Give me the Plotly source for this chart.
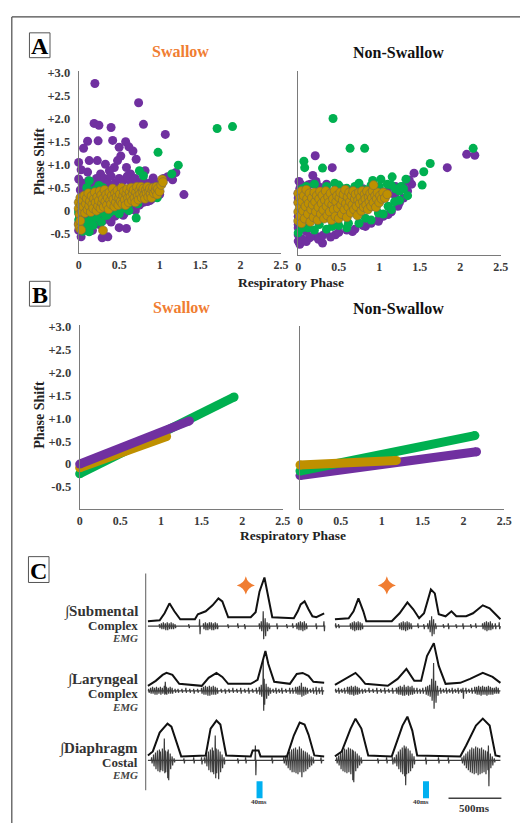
import plotly.graph_objects as go

W, H = 528, 823
SERIF = "Liberation Serif, Times New Roman, serif"
PURPLE, GREEN, GOLD, ORANGE, CYAN = "#7030A0", "#00B050", "#BF9000", "#F07D32", "#00B0F0"

# ---------------- Panel A data (respiratory phase, phase shift) ----------------
SW_PURPLE = [(0.20,2.77),(0.74,2.35),(0.19,1.90),(0.25,1.86),(0.40,1.81),(0.80,1.88),(1.07,1.66),(0.11,1.51),
    (0.24,1.52),(0.42,1.53),(0.58,1.50),(0.06,1.36),(0.50,1.38),(0.62,1.39),(0.67,1.30),(0.00,1.05),(0.03,0.89),
    (0.13,1.09),(0.23,1.09),(0.33,1.01),(0.44,0.94),(0.52,1.19),(0.48,1.09),(0.71,1.12),(0.59,0.94),(0.38,0.87),
    (0.27,0.80),(0.11,0.84),(0.00,0.69),(0.05,0.51),(1.30,0.35),(1.20,0.83),(1.16,0.67),(1.10,0.74),(0.92,0.71),
    (0.64,0.80),(0.82,0.87),(0.03,-0.57),(0.29,-0.59),(0.36,-0.57),(0.50,-0.37),(0.59,-0.39),(0.17,-0.43),
    (0.11,-0.28),(0.27,-0.21),(0.40,-0.14),(0.56,-0.07),(0.70,0.00),(0.76,0.15),(0.88,0.22),(0.96,0.33),
    (0.84,0.33),(0.00,-0.43),(0.00,-0.28),(0.01,-0.14),(0.07,0.00),(0.05,-0.10),(0.10,-0.15),(0.15,-0.20),
    (0.20,-0.25),(0.25,-0.30),(0.30,-0.22),(0.35,-0.18),(0.40,-0.25),(0.45,-0.12),(0.50,-0.05),(0.55,-0.10),
    (0.60,0.00),(0.65,0.05),(0.70,0.08),(0.75,0.12),(0.80,0.18),(0.85,0.20),(0.90,0.25),(0.95,0.30),(1.00,0.35),
    (0.02,0.45),(0.04,0.60),(0.06,0.40),(0.08,0.55),(0.12,0.65),(0.15,0.50),(0.18,0.60),(0.22,0.70),(0.25,0.55),
    (0.28,0.65),(0.32,0.70),(0.36,0.60),(0.40,0.75),(0.45,0.60),(0.50,0.70),(0.55,0.65),(0.60,0.75),(0.65,0.62),
    (0.70,0.70),(0.75,0.60),(0.80,0.65),(0.88,0.60),(0.95,0.62),(1.05,0.70)]
SW_GREEN = [(1.71,1.79),(1.90,1.83),(0.98,1.27),(1.23,0.99),(0.75,0.87),(0.80,0.76),(0.13,0.65),(0.25,0.55),
    (0.71,-0.16),(0.50,-0.07),(0.62,0.00),(0.73,0.15),(0.84,0.29),(0.97,0.28),(0.00,0.00),(0.01,-0.14),(0.03,-0.28),
    (0.13,-0.46),(0.09,-0.25),(0.17,-0.14),(0.35,-0.10),(0.27,-0.03),(0.11,0.11),(0.23,0.22),(0.40,0.15),(0.56,0.26),
    (0.68,0.40),(0.78,0.44),(0.88,0.45),(0.90,0.36),(0.52,0.11),(0.00,-0.05),(0.00,-0.20),(0.02,-0.35),(0.05,-0.45),
    (0.08,-0.30),(0.12,-0.40),(0.15,-0.20),(0.18,-0.32),(0.22,-0.15),(0.28,-0.25),(0.33,-0.10),(0.38,-0.05),
    (0.45,0.00),(0.55,0.05),(0.60,0.10),(0.65,0.18),(0.72,0.20),(0.78,0.30),(0.85,0.35),(0.92,0.40),(0.10,0.50),
    (0.20,0.45),(0.30,0.50),(1.15,0.80)]
SW_GOLD = [(0.00,0.18),(0.00,0.05),(0.01,-0.08),(0.02,0.28),(0.03,0.12),(0.04,-0.02),(0.05,0.22),(0.06,0.08),
    (0.07,0.33),(0.08,-0.05),(0.09,0.15),(0.10,0.27),(0.11,0.02),(0.12,0.38),(0.13,0.10),(0.14,0.21),(0.15,-0.03),
    (0.16,0.32),(0.17,0.14),(0.18,0.05),(0.19,0.26),(0.20,0.40),(0.21,0.18),(0.22,0.00),(0.23,0.30),(0.24,0.10),
    (0.25,0.22),(0.26,0.42),(0.27,0.05),(0.28,0.34),(0.29,0.16),(0.30,0.26),(0.31,0.08),(0.32,0.45),(0.33,0.20),
    (0.34,0.35),(0.35,0.12),(0.36,0.28),(0.37,0.03),(0.38,0.40),(0.39,0.22),(0.40,0.14),(0.41,0.33),(0.42,0.48),
    (0.43,0.25),(0.44,0.09),(0.45,0.38),(0.46,0.18),(0.47,0.30),(0.48,0.44),(0.49,0.12),(0.50,0.27),(0.51,0.36),
    (0.52,0.20),(0.53,0.50),(0.54,0.15),(0.55,0.32),(0.56,0.42),(0.57,0.24),(0.58,0.12),(0.59,0.36),(0.60,0.47),
    (0.61,0.28),(0.62,0.18),(0.63,0.40),(0.64,0.30),(0.65,0.50),(0.66,0.22),(0.67,0.37),(0.68,0.45),(0.69,0.28),
    (0.70,0.18),(0.71,0.40),(0.72,0.52),(0.73,0.32),(0.74,0.24),(0.75,0.44),(0.76,0.36),(0.77,0.52),(0.78,0.28),
    (0.79,0.42),(0.80,0.48),(0.81,0.34),(0.82,0.26),(0.83,0.45),(0.84,0.38),(0.85,0.52),(0.86,0.30),(0.87,0.42),
    (0.88,0.48),(0.89,0.36),(0.90,0.28),(0.91,0.45),(0.92,0.50),(0.93,0.38),(0.95,0.44),(0.96,0.52),(0.97,0.35),
    (0.98,0.48),(1.00,0.42),(1.02,0.56),(1.03,0.68),(1.04,0.62),(0.00,-0.30),(0.01,-0.38),(0.03,-0.42),
    (0.30,-0.43),(0.02,-0.22)]

NS_PURPLE = [(0.21,1.22),(0.42,0.96),(0.18,0.79),(0.22,0.66),(2.08,1.25),(2.18,1.23),(1.84,0.96),(1.43,0.84),
    (1.37,0.69),(1.29,0.51),(1.19,0.37),(0.01,0.66),(0.02,0.51),(0.00,0.30),(0.00,-0.64),(0.02,-0.71),(0.14,-0.57),
    (0.30,-0.68),(0.22,-0.53),(0.46,-0.50),(0.67,-0.43),(0.83,-0.32),(0.99,-0.21),(1.11,-0.06),(1.23,0.12),
    (0.00,-0.28),(0.10,-0.43),(0.34,-0.46),(0.28,0.40),(0.12,0.58),(0.00,-0.50),(0.05,-0.60),(0.10,-0.65),
    (0.15,-0.55),(0.25,-0.60),(0.30,-0.52),(0.40,-0.55),(0.50,-0.45),(0.60,-0.40),(0.70,-0.38),(0.80,-0.30),
    (0.90,-0.25),(1.00,-0.15),(1.05,-0.10),(1.15,0.00),(1.25,0.20),(1.30,0.30),(1.35,0.45),(1.40,0.60),
    (0.00,0.40),(0.00,0.20),(0.00,-0.10),(0.00,-0.35),(0.03,0.60),(0.08,0.45),(0.15,0.60),(0.25,0.55),
    (0.35,0.60),(0.50,0.50),(0.65,0.45),(0.80,0.50),(0.95,0.48),(1.10,0.45),(1.20,0.55),(1.30,0.55)]
NS_GREEN = [(0.43,2.03),(0.64,1.38),(0.82,1.38),(2.16,1.38),(0.07,1.10),(0.08,0.96),(0.30,0.95),(1.63,1.05),
    (1.55,0.87),(1.53,0.58),(1.33,0.71),(1.16,0.76),(1.02,0.71),(0.92,0.68),(0.50,0.58),(0.60,0.51),(0.46,0.45),
    (0.83,0.48),(1.27,0.55),(1.15,0.58),(1.03,0.44),(0.71,0.33),(0.30,0.37),(0.14,0.30),(0.26,-0.28),(0.00,-0.46),
    (0.12,-0.35),(0.42,-0.32),(0.62,-0.25),(0.83,-0.14),(0.99,-0.03),(1.11,0.12),(1.19,0.22),(0.06,-0.06),
    (0.05,0.50),(0.10,0.55),(0.20,0.60),(0.35,0.55),(0.45,0.62),(0.55,0.50),(0.70,0.55),(0.75,0.62),(0.90,0.58),
    (1.00,0.55),(1.10,0.60),(1.20,0.50),(1.25,0.45),(1.30,0.50),(0.05,-0.35),(0.20,-0.40),(0.35,-0.38),
    (0.50,-0.30),(0.60,-0.35),(0.75,-0.25),(0.90,-0.18),(1.05,-0.05),(1.15,0.05),(1.25,0.25),(1.35,0.35),
    (0.02,-0.25)]
NS_GOLD = [(0.00,0.40),(0.00,0.20),(0.00,0.00),(0.00,-0.20),(0.02,0.30),(0.02,0.10),(0.02,-0.10),(0.04,0.45),
    (0.04,-0.25),(0.05,0.22),(0.06,0.02),(0.07,0.35),(0.08,-0.15),(0.09,0.12),(0.10,0.48),(0.11,0.28),
    (0.12,-0.05),(0.13,0.18),(0.14,0.40),(0.15,-0.22),(0.16,0.05),(0.17,0.30),(0.18,0.15),(0.19,-0.12),
    (0.20,0.42),(0.21,0.22),(0.22,0.00),(0.23,0.35),(0.24,-0.18),(0.25,0.10),(0.26,0.28),(0.27,0.44),
    (0.28,-0.05),(0.29,0.18),(0.30,0.36),(0.31,0.04),(0.32,-0.15),(0.33,0.25),(0.34,0.45),(0.35,0.12),
    (0.36,-0.08),(0.37,0.32),(0.38,0.20),(0.39,0.00),(0.40,0.40),(0.41,-0.18),(0.42,0.15),(0.43,0.28),
    (0.44,0.05),(0.45,0.46),(0.46,-0.10),(0.47,0.22),(0.48,0.35),(0.49,0.08),(0.50,-0.15),(0.51,0.30),
    (0.52,0.42),(0.53,0.15),(0.54,-0.05),(0.55,0.25),(0.56,0.38),(0.57,0.05),(0.58,0.48),(0.59,0.18),
    (0.60,-0.12),(0.61,0.32),(0.62,0.10),(0.63,0.42),(0.64,0.22),(0.65,-0.02),(0.66,0.35),(0.67,0.15),
    (0.68,0.45),(0.69,0.05),(0.70,0.28),(0.71,0.38),(0.72,0.12),(0.73,-0.08),(0.74,0.25),(0.75,0.42),
    (0.76,0.18),(0.77,0.32),(0.78,0.02),(0.79,0.45),(0.80,0.22),(0.81,0.10),(0.82,0.38),(0.83,0.28),
    (0.84,0.15),(0.85,0.45),(0.86,0.05),(0.87,0.32),(0.88,0.22),(0.89,0.40),(0.90,0.12),(0.91,0.30),
    (0.92,0.45),(0.93,0.20),(0.95,0.35),(0.96,0.10),(0.97,0.28),(0.98,0.42),(1.00,0.20),(1.01,0.35),
    (1.03,0.28),(1.05,0.42),(1.07,0.30),(1.10,0.38),(0.93,0.58)]

# ---------------- Panel B data: fitted lines (endpoints) ----------------
SW_FIT_GREEN = [(0.0,-0.21),(1.90,1.46)]
SW_FIT_GOLD = [(0.0,-0.08),(1.07,0.60)]
SW_FIT_PURPLE = [(0.0,0.00),(1.35,0.94)]
NS_FIT_PURPLE = [(0.0,-0.25),(2.16,0.27)]
NS_FIT_GREEN = [(0.0,-0.15),(2.14,0.62)]
NS_FIT_GOLD = [(0.0,-0.02),(1.18,0.08)]

Y_TICKS = [-0.5,0,0.5,1.0,1.5,2.0,2.5,3.0]
Y_TICKTEXT = ["-0.5","0","+0.5","+1.0","+1.5","+2.0","+2.5","+3.0"]
X_TICKS = [0,0.5,1,1.5,2,2.5]
X_TICKTEXT = ["0","0.5","1","1.5","2","2.5"]

# ---------------- Panel C data (time in samples, 1 sample = 9.26 ms; amplitude a.u.) ----------------
SAMPLE_MS = 500/54
SUB_ENV_L = [(0,0),(12,1),(17,8),(22,18),(27,10),(33,2),(48,2),(51,7),(59,10),(66,16),(72,23),(76,20),(82,4),
    (105,4),(110,9),(114,30),(119,44),(123,25),(127,4),(149,3),(153,10),(156,17),(160,20),(164,12),(168,5),(172,4),(180,8)]
SUB_ENV_R = [(191,2),(205,3),(210,10),(215,23),(220,10),(223,0),(249,0),(257,8),(265,19),(271,12),(277,3),(282,8),
    (289,32),(293,28),(297,7),(304,5),(310,10),(315,5),(325,5),(332,8),(342,16),(349,13),(355,7),(360,2)]
LAR_ENV_L = [(0,0),(8,5),(15,11),(19,13),(25,11),(32,2),(55,0),(62,8),(70,13),(76,9),(82,2),(105,2),(112,6),
    (116,20),(120,35),(123,22),(129,4),(145,2),(152,12),(158,13),(164,10),(169,4),(180,3)]
LAR_ENV_R = [(191,1),(202,7),(212,13),(217,8),(222,2),(245,0),(255,7),(264,17),(272,5),(279,5),(285,30),(292,43),
    (297,20),(304,2),(319,3),(329,7),(342,13),(352,9),(360,3)]
DIA_ENV_L = [(0,1),(5,5),(12,24),(20,33),(24,30),(29,14),(34,0),(59,1),(64,28),(70,36),(74,32),(80,1),(105,0),
    (107,6),(113,6),(115,0),(142,0),(149,21),(155,34),(160,32),(164,22),(170,1),(180,0)]
DIA_ENV_R = [(191,0),(198,5),(207,28),(212,38),(218,28),(225,1),(249,0),(254,14),(260,31),(265,40),(270,26),
    (275,1),(319,0),(325,11),(335,31),(342,38),(349,31),(355,1),(360,0)]

# EMG spikes: (time, up, down)
SUB_EMG = [(12,2,2),(14,3,3),(16,4,3),(18,3,4),(20,4,4),(22,3,3),(24,4,3),(26,3,3),(28,2,2),(42,2,2),(53,7,8),
    (57,3,3),(59,4,4),(61,3,4),(63,4,3),(65,4,4),(67,3,4),(69,4,3),(71,3,3),(82,2,2),(92,3,2),(99,2,3),
    (114,3,3),(116,5,5),(118,15,13),(120,8,10),(122,4,5),(124,3,3),(132,3,3),(142,2,2),(148,3,2),
    (152,3,3),(154,4,4),(156,5,4),(158,4,5),(160,5,4),(162,3,3),(172,3,3),(180,5,5),
    (192,3,2),(195,2,2),(207,3,3),(209,4,4),(211,5,5),(213,4,4),(215,5,4),(217,4,4),(219,3,3),
    (257,3,3),(259,4,4),(261,5,4),(263,4,5),(265,5,4),(267,4,3),(269,3,3),(276,3,2),(282,2,3),
    (286,3,3),(288,6,6),(290,10,10),(292,7,8),(294,3,3),(302,2,2),(307,3,3),(315,2,2),(322,3,3),(330,2,2),
    (335,3,2),(342,3,3),(344,4,4),(346,5,5),(348,4,4),(350,5,4),(352,3,3),(355,3,3),(359,4,3)]
LAR_EMG = [(1,2,2),(3,3,3),(5,4,3),(7,3,4),(9,4,4),(11,3,3),(13,4,4),(15,3,3),(17,5,4),(18,9,3),(19,4,4),
    (21,3,3),(23,4,3),(25,3,3),(28,2,2),(31,2,2),(35,2,2),(39,3,2),(43,2,2),(47,2,3),(51,2,2),(55,3,3),
    (57,4,4),(59,5,4),(61,4,5),(63,5,5),(65,4,4),(67,5,4),(69,4,4),(71,3,3),(75,2,2),(79,2,3),(83,2,2),
    (87,3,2),(91,2,2),(95,3,3),(99,2,2),(103,3,3),(107,2,2),(111,3,3),(114,4,4),(116,6,6),(118,30,20),
    (119,12,14),(121,7,8),(123,4,5),(125,3,3),(128,2,2),(131,3,3),(134,2,2),(137,3,3),(141,2,2),(145,3,3),
    (148,3,3),(151,4,3),(153,4,4),(155,5,4),(157,8,6),(159,4,5),(161,4,4),(163,3,3),(166,2,2),(169,3,3),
    (172,4,4),(175,3,3),(178,4,4),
    (192,2,2),(195,3,3),(198,2,2),(201,3,3),(204,4,3),(206,4,4),(208,5,4),(210,4,5),(212,5,4),(214,4,4),
    (216,3,3),(219,2,3),(222,2,2),(226,3,2),(230,2,2),(234,3,3),(238,2,2),(242,3,3),(246,2,2),(250,3,3),
    (254,3,3),(256,4,4),(258,5,4),(260,4,5),(262,6,5),(264,4,4),(266,5,5),(268,4,4),(270,5,4),(272,3,3),
    (275,3,3),(278,2,3),(281,3,3),(284,4,4),(286,5,5),(288,6,6),(290,12,10),(292,28,18),(294,10,12),
    (296,5,5),(299,3,3),(302,2,2),(305,3,3),(308,2,2),(311,3,3),(314,2,2),(317,3,3),(320,2,2),(322,3,8),
    (325,3,3),(328,2,2),(331,3,3),(334,4,3),(336,4,4),(338,5,4),(340,4,5),(342,5,4),(344,4,4),(346,4,5),
    (348,5,4),(350,4,4),(352,3,4),(354,3,3),(356,4,3),(358,3,3)]
DIA_EMG = [(4,3,3),(6,6,6),(8,8,9),(10,10,11),(12,11,12),(13,9,10),(15,12,11),(17,22,13),(18,10,12),(20,9,18),
    (21,11,20),(23,7,9),(25,4,5),(27,2,2),(37,2,3),(47,3,3),(55,3,4),(58,3,3),(60,6,6),(62,9,10),(64,11,12),
    (66,13,12),(67,10,14),(69,25,18),(70,12,13),(72,11,19),(74,9,12),(76,6,8),(78,3,4),(92,2,3),(100,3,3),
    (110,15,15),(127,3,3),(139,3,3),(141,5,5),(143,7,8),(145,9,10),(147,11,12),(149,12,12),(151,13,13),
    (153,11,14),(155,14,12),(157,12,17),(159,10,12),(161,9,11),(163,8,9),(165,6,7),(167,4,5),(169,3,3),
    (177,3,3),
    (193,3,3),(195,5,5),(197,8,9),(199,10,11),(201,12,12),(203,11,13),(205,13,12),(207,12,14),(209,11,20),
    (210,10,22),(212,9,11),(214,7,8),(216,5,5),(218,3,3),(235,2,3),(244,3,3),(250,3,4),(252,3,3),(254,6,6),
    (256,9,9),(258,11,12),(260,13,14),(262,15,16),(263,12,25),(264,14,14),(266,12,13),(268,10,11),(270,7,8),
    (272,4,4),(284,3,4),(297,3,3),(307,3,3),(321,3,3),(323,5,5),(325,7,8),(327,9,10),(329,11,12),(331,13,13),
    (333,12,14),(335,14,13),(337,13,15),(339,12,14),(341,13,13),(343,11,12),(345,10,14),(347,9,10),
    (348,15,26),(350,7,8),(352,4,5),(354,2,2)]
SWALLOW_EVENTS = [100, 244]
STIM_EVENTS = [114, 284]
SEGMENTS = [(0, 180), (191, 360)]

# ---------------- figure ----------------
fig = go.Figure()

def px(xp):
    return xp / W

def py(yp):
    return 1 - yp / H

def scatter_pts(pts, color, xa, ya, line_col, lw):
    fig.add_trace(go.Scatter(x=[p[0] for p in pts], y=[p[1] for p in pts], mode="markers",
        xaxis=xa, yaxis=ya, cliponaxis=False, hoverinfo="skip",
        marker=dict(size=9, color=color, line=dict(color=line_col, width=lw))))

def fit_line(pts, color, xa, ya):
    fig.add_trace(go.Scatter(x=[p[0] for p in pts], y=[p[1] for p in pts], mode="lines+markers",
        xaxis=xa, yaxis=ya, cliponaxis=False, hoverinfo="skip",
        line=dict(color=color, width=9), marker=dict(size=9, color=color)))

scatter_pts(SW_PURPLE, PURPLE, "x", "y", PURPLE, 0)
scatter_pts(SW_GREEN, GREEN, "x", "y", GREEN, 0)
scatter_pts(SW_GOLD, GOLD, "x", "y", "#7a6a45", 0.6)
scatter_pts(NS_PURPLE, PURPLE, "x2", "y2", PURPLE, 0)
scatter_pts(NS_GREEN, GREEN, "x2", "y2", GREEN, 0)
scatter_pts(NS_GOLD, GOLD, "x2", "y2", "#7a6a45", 0.6)

fit_line(SW_FIT_GREEN, GREEN, "x3", "y3")
fit_line(SW_FIT_GOLD, GOLD, "x3", "y3")
fit_line(SW_FIT_PURPLE, PURPLE, "x3", "y3")
fit_line(NS_FIT_PURPLE, PURPLE, "x4", "y4")
fit_line(NS_FIT_GREEN, GREEN, "x4", "y4")
fit_line(NS_FIT_GOLD, GOLD, "x4", "y4")

# panel C traces
ROW_BASE = {"sub": (195, 190), "lar": (130, 125), "dia": (59, 55)}
ENVS = {"sub": [SUB_ENV_L, SUB_ENV_R], "lar": [LAR_ENV_L, LAR_ENV_R], "dia": [DIA_ENV_L, DIA_ENV_R]}
EMGS = {"sub": SUB_EMG, "lar": LAR_EMG, "dia": DIA_EMG}
for key in ["sub", "lar", "dia"]:
    env_base, emg_base = ROW_BASE[key]
    for (t0, t1) in SEGMENTS:
        xs, ys = [t0], [emg_base]
        for (t, u, d) in EMGS[key]:
            if t0 <= t <= t1:
                xs += [t - 0.6, t - 0.25, t + 0.25, t + 0.6]
                ys += [emg_base, emg_base + u, emg_base - d, emg_base]
        xs.append(t1); ys.append(emg_base)
        fig.add_trace(go.Scatter(x=xs, y=ys, mode="lines", xaxis="x5", yaxis="y5", hoverinfo="skip",
                                 line=dict(color="#3c3c3c", width=1.2)))
    for env in ENVS[key]:
        fig.add_trace(go.Scatter(x=[p[0] for p in env], y=[env_base + p[1] for p in env], mode="lines",
                                 xaxis="x5", yaxis="y5", hoverinfo="skip",
                                 line=dict(color="#111111", width=2)))

fig.add_trace(go.Scatter(x=SWALLOW_EVENTS, y=[231] * len(SWALLOW_EVENTS), mode="markers", xaxis="x5",
    yaxis="y5", hoverinfo="skip", marker=dict(symbol="star-diamond", size=13, color=ORANGE)))
for t in STIM_EVENTS:
    fig.add_trace(go.Scatter(x=[t, t], y=[17, 34], mode="lines", xaxis="x5", yaxis="y5", hoverinfo="skip",
                             line=dict(color=CYAN, width=6)))
fig.add_trace(go.Scatter(x=[307, 307 + 500 / SAMPLE_MS], y=[17, 17], mode="lines", xaxis="x5", yaxis="y5",
    hoverinfo="skip", line=dict(color="#404040", width=1.5)))

ytickfont = dict(family=SERIF, size=12.5, color="#3a3a3a", weight="bold")
xtickfont = dict(family=SERIF, size=12, color="#3a3a3a", weight="bold")

def xax(x0, x1):
    return dict(domain=[px(x0), px(x1)], range=[0, 2.5], showgrid=False, zeroline=False,
                showline=True, linecolor="#7a7a7a", linewidth=1, tickvals=X_TICKS, ticktext=X_TICKTEXT,
                ticks="", tickfont=xtickfont, fixedrange=True)

def yax(x_anchor, ytop, ybot, zero_px, labels):
    lo = (zero_px - ybot) / 46.2
    hi = (zero_px - ytop) / 46.2
    return dict(domain=[py(ybot), py(ytop)], range=[lo, hi], anchor=x_anchor, showgrid=False,
                zeroline=False, showline=True, linecolor="#7a7a7a", linewidth=1, tickvals=Y_TICKS,
                ticktext=Y_TICKTEXT, ticks="outside", ticklen=5, tickcolor="rgba(0,0,0,0)",
                showticklabels=labels, tickfont=ytickfont, fixedrange=True)

fig.update_layout(
    width=W, height=H, margin=dict(l=0, r=0, t=0, b=0), paper_bgcolor="white", plot_bgcolor="white",
    showlegend=False,
    xaxis=dict(xax(77.3, 284), anchor="y"),
    yaxis=yax("x", 66.7, 250, 206.9, True),
    xaxis2=dict(xax(301.5, 508.3), anchor="y2"),
    yaxis2=yax("x2", 66.7, 252, 208.0, False),
    xaxis3=dict(xax(78.3, 285.8), anchor="y3"),
    yaxis3=yax("x3", 321.7, 507.3, 461.9, True),
    xaxis4=dict(xax(303.3, 512), anchor="y4"),
    yaxis4=yax("x4", 322.7, 507.3, 461.9, False),
    xaxis5=dict(domain=[px(145), px(515)], range=[-3, 367], visible=False, anchor="y5", fixedrange=True),
    yaxis5=dict(domain=[py(815), py(560)], range=[0, 255], visible=False, anchor="x5", fixedrange=True),
)

shapes = []
ann = []

def line_px(x0, y0, x1, y1, color="#4a4a4a", width=1.2):
    shapes.append(dict(type="line", xref="paper", yref="paper", x0=px(x0), y0=py(y0), x1=px(x1), y1=py(y1),
                       line=dict(color=color, width=width)))

def text_px(x, y, text, size, color="#222", xanchor="center", weight="bold", italic=False, angle=0):
    ann.append(dict(x=px(x), y=py(y), xref="paper", yref="paper", text=text, showarrow=False,
                    xanchor=xanchor, yanchor="middle", textangle=angle,
                    font=dict(family=SERIF, size=size, color=color, weight=weight,
                              style="italic" if italic else "normal")))

# outer frame
line_px(9, 12, 528, 12)
line_px(9, 12, 9, 823)
# panel letters
for (lbl, x0, y0, x1, y1) in [("A", 27, 28, 48, 53), ("B", 27, 278, 48, 303), ("C", 26, 555, 47, 581)]:
    shapes.append(dict(type="rect", xref="paper", yref="paper", x0=px(x0), y0=py(y1), x1=px(x1), y1=py(y0),
                       line=dict(color="#555", width=1)))
    text_px((x0 + x1) / 2, (y0 + y1) / 2 + 1, lbl, 24, color="#000")

# titles
text_px(181, 47, "Swallow", 16, color=ORANGE)
text_px(404, 48, "Non-Swallow", 16, color="#111")
text_px(182, 304, "Swallow", 16, color=ORANGE)
text_px(404, 305, "Non-Swallow", 16, color="#111")
text_px(37, 157, "Phase Shift", 14, angle=-90)
text_px(37, 412, "Phase Shift", 14, angle=-90)
text_px(294, 279, "Respiratory Phase", 13.5)
text_px(296, 534, "Respiratory Phase", 13.5)

# panel C divider
line_px(145.7, 572, 145.7, 790, color="#777", width=1.2)
# row labels
for (name, sub, y) in [("Submental", "Complex", 610), ("Laryngeal", "Complex", 679), ("Diaphragm", "Costal", 748)]:
    ann.append(dict(x=px(140), y=py(y), xref="paper", yref="paper", xanchor="right", yanchor="middle",
                    showarrow=False, text="∫<b>" + name + "</b>",
                    font=dict(family=SERIF, size=15, color="#333")))
    text_px(140, y + 14, sub, 13, color="#333", xanchor="right")
    text_px(140, y + 27, "EMG", 11, color="#444", xanchor="right", italic=True)

text_px(261, 802, "40ms", 7, color="#333")
text_px(427, 802, "40ms", 7, color="#333")
text_px(482, 808, "500ms", 11, color="#333")

fig.update_layout(shapes=shapes, annotations=ann)
fig.write_html("out.html", config={"displayModeBar": False},
               post_script="document.body.style.margin='0';document.body.style.overflow='hidden';")
